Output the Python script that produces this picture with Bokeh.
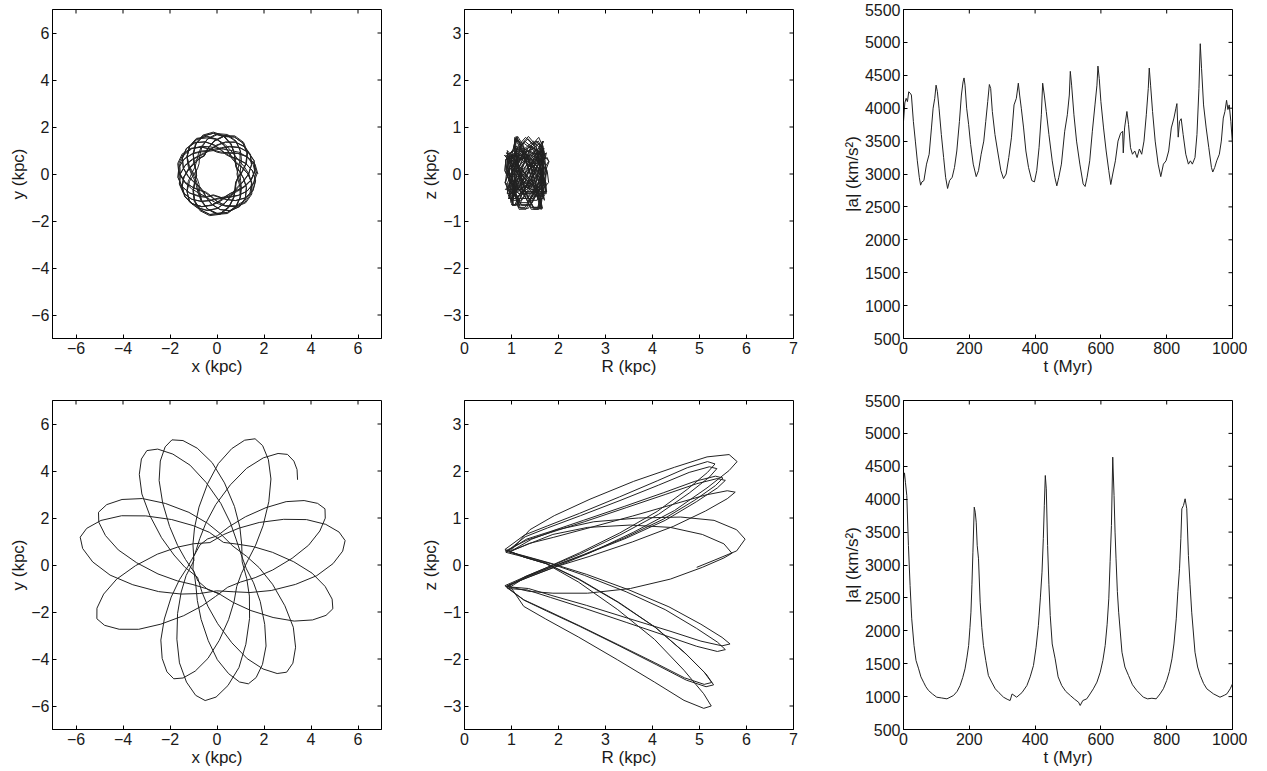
import numpy as np
from bokeh.plotting import figure
from bokeh.layouts import gridplot
from bokeh.models import FixedTicker, Range1d, CustomJSTickFormatter
from bokeh.embed import file_html
from bokeh.resources import INLINE

# ---------------- data ----------------
# top-left: inner orbit in the x-y plane, as azimuth (deg) and radius (kpc)
orbit1_phi = [
    0, 15, 30, 45, 60, 75, 90, 105, 120, 135, 150, 165, 180, 195, 210, 225, 240, 255, 270, 285, 300, 315, 330, 345,
    0, 15, 30, 45, 60, 75, 90, 105, 120, 135, 150, 165, 180, 195, 210, 225, 240, 255, 270, 285, 300, 315, 330, 345,
    0, 15, 30, 45, 60, 75, 90, 105, 120, 135, 150, 165, 180, 195, 210, 225, 240, 255, 270, 285, 300, 315, 330, 345,
    0, 15, 30, 45, 60, 75, 90, 105, 120, 135, 150, 165, 180, 195, 210, 225, 240, 255, 270, 285, 300, 315, 330, 345,
    0, 15, 30, 45, 60, 75, 90, 105, 120, 135, 150, 165, 180, 195, 210, 225, 240, 255, 270, 285, 300, 315, 330, 345,
    0, 15, 30, 45, 60, 75, 90, 105, 120, 135, 150, 165, 180, 195, 210, 225, 240, 255, 270, 285, 300, 315, 330, 345,
    0, 15, 30, 45, 60, 75, 90, 105, 120, 135, 150, 165, 180, 195, 210, 225, 240, 255, 270, 285, 300, 315, 330, 345,
    0, 15, 30, 45, 60, 75, 90, 105, 120, 135, 150, 165, 180, 195, 210, 225, 240, 255, 270, 285, 300, 315, 330, 345,
    0, 15, 30, 45, 60, 75, 90, 105, 120, 135, 150, 165, 180, 195, 210, 225, 240, 255, 270, 285, 300, 315, 330, 345,
    0, 15, 30, 45, 60, 75, 90, 105, 120, 135, 150, 165, 180, 195, 210, 225, 240, 255, 270, 285, 300, 315, 330, 345,
    20, 35, 50, 65, 80, 95, 110, 125, 140, 155, 170, 185, 200, 215, 230, 245, 260, 275, 290, 305, 320, 335, 350, 5,
    20, 35, 50, 65, 80, 95, 110, 125, 140, 155, 170, 185, 200, 215, 230, 245, 260, 275, 290, 305, 320, 335, 350, 5,
    20, 35, 50, 65, 80, 95, 110, 125, 140, 155, 170, 185, 200, 215, 230, 245, 260, 275, 290, 305, 320, 335, 350, 5,
    20, 35, 50, 65, 80, 95, 110, 125, 140, 155, 170, 185, 200, 215, 230, 245, 260, 275, 290, 305, 320, 335, 350, 5,
    20, 35, 50, 65, 80, 95, 110, 125, 140, 155, 170, 185, 200, 215, 230, 245, 260, 275, 290, 305, 320, 335, 350, 5,
    20, 35, 50, 65, 80, 95, 110, 125, 140, 155, 170, 185, 200, 215, 230, 245, 260, 275, 290, 305, 320, 335, 350, 5,
    20, 35, 50, 65, 80, 95, 110, 125, 140, 155, 170, 185, 200, 215, 230, 245, 260, 275, 290, 305, 320, 335, 350, 5,
    20, 35, 50, 65, 80, 95, 110, 125, 140, 155, 170, 185, 200, 215, 230, 245, 260, 275, 290, 305, 320, 335, 350, 5,
    20, 35, 50, 65, 80, 95, 110, 125, 140, 155, 170, 185, 200, 215, 230, 245, 260, 275, 290, 305, 320, 335, 350, 5,
    20, 35, 50, 65, 80, 95, 110, 125, 140, 155, 170, 185, 200, 215, 230, 245, 260, 275, 290, 305, 320, 335, 350, 5,
]
orbit1_r = [
    1.74, 1.67, 1.48, 1.24, 1.02, 0.91, 0.93, 1.09, 1.32, 1.55, 1.71, 1.73, 1.62, 1.40, 1.16, 0.97,
    0.90, 0.97, 1.16, 1.40, 1.62, 1.73, 1.71, 1.55, 1.32, 1.09, 0.93, 0.91, 1.02, 1.24, 1.48, 1.67,
    1.70, 1.64, 1.48, 1.27, 1.09, 0.99, 1.01, 1.14, 1.34, 1.54, 1.67, 1.69, 1.60, 1.41, 1.20, 1.04,
    0.98, 1.04, 1.20, 1.41, 1.60, 1.69, 1.67, 1.54, 1.34, 1.14, 1.01, 0.99, 1.09, 1.27, 1.48, 1.64,
    1.65, 1.60, 1.47, 1.29, 1.14, 1.06, 1.07, 1.18, 1.35, 1.52, 1.63, 1.64, 1.56, 1.41, 1.24, 1.10,
    1.05, 1.10, 1.24, 1.41, 1.56, 1.64, 1.63, 1.52, 1.35, 1.18, 1.07, 1.06, 1.14, 1.29, 1.47, 1.60,
    1.70, 1.64, 1.47, 1.25, 1.05, 0.95, 0.97, 1.11, 1.32, 1.53, 1.67, 1.69, 1.59, 1.39, 1.17, 1.00,
    0.94, 1.00, 1.17, 1.39, 1.59, 1.69, 1.67, 1.53, 1.32, 1.11, 0.97, 0.95, 1.05, 1.25, 1.47, 1.64,
    1.75, 1.67, 1.47, 1.21, 0.98, 0.86, 0.88, 1.05, 1.30, 1.55, 1.72, 1.74, 1.62, 1.39, 1.13, 0.93,
    0.85, 0.93, 1.13, 1.39, 1.62, 1.74, 1.72, 1.55, 1.30, 1.05, 0.88, 0.86, 0.98, 1.21, 1.47, 1.67,
    1.67, 1.61, 1.47, 1.28, 1.11, 1.02, 1.04, 1.16, 1.34, 1.52, 1.65, 1.66, 1.57, 1.40, 1.21, 1.07,
    1.01, 1.07, 1.21, 1.40, 1.57, 1.66, 1.65, 1.52, 1.34, 1.16, 1.04, 1.02, 1.11, 1.28, 1.47, 1.61,
    1.64, 1.59, 1.47, 1.31, 1.16, 1.09, 1.10, 1.20, 1.36, 1.52, 1.62, 1.64, 1.56, 1.42, 1.25, 1.13,
    1.08, 1.13, 1.25, 1.42, 1.56, 1.64, 1.62, 1.52, 1.36, 1.20, 1.10, 1.09, 1.16, 1.31, 1.47, 1.59,
    1.72, 1.65, 1.47, 1.24, 1.04, 0.93, 0.95, 1.10, 1.32, 1.54, 1.69, 1.71, 1.60, 1.40, 1.17, 0.99,
    0.87, 0.94, 1.14, 1.40, 1.62, 1.74, 1.72, 1.56, 1.31, 1.07, 0.90, 0.88, 1.00, 1.22, 1.48, 1.68,
    1.75, 1.68, 1.48, 1.22, 1.00, 0.88, 0.90, 1.07, 1.31, 1.56, 1.72, 1.74, 1.62, 1.40, 1.14, 0.94,
    1.00, 1.06, 1.21, 1.41, 1.58, 1.67, 1.65, 1.53, 1.34, 1.15, 1.03, 1.01, 1.10, 1.27, 1.47, 1.62,
    1.68, 1.62, 1.47, 1.27, 1.10, 1.01, 1.03, 1.15, 1.34, 1.53, 1.65, 1.67, 1.58, 1.41, 1.21, 1.06,
    0.90, 0.97, 1.15, 1.38, 1.58, 1.69, 1.67, 1.52, 1.30, 1.08, 0.93, 0.91, 1.02, 1.22, 1.45, 1.63,
    1.70, 1.63, 1.45, 1.22, 1.02, 0.91, 0.93, 1.08, 1.30, 1.52, 1.67, 1.69, 1.58, 1.38, 1.15, 0.97,
    0.86, 0.94, 1.15, 1.42, 1.66, 1.79, 1.76, 1.59, 1.33, 1.07, 0.90, 0.87, 1.00, 1.24, 1.51, 1.72,
    1.80, 1.72, 1.51, 1.24, 1.00, 0.87, 0.90, 1.07, 1.33, 1.59, 1.76, 1.79, 1.66, 1.42, 1.15, 0.94,
    1.05, 1.10, 1.24, 1.42, 1.58, 1.66, 1.65, 1.53, 1.36, 1.19, 1.07, 1.06, 1.14, 1.30, 1.48, 1.62,
    1.67, 1.62, 1.48, 1.30, 1.14, 1.06, 1.07, 1.19, 1.36, 1.53, 1.65, 1.66, 1.58, 1.42, 1.24, 1.10,
    0.93, 0.99, 1.16, 1.38, 1.58, 1.68, 1.66, 1.52, 1.31, 1.10, 0.96, 0.94, 1.04, 1.24, 1.46, 1.63,
    1.69, 1.63, 1.46, 1.24, 1.04, 0.94, 0.96, 1.10, 1.31, 1.52, 1.66, 1.68, 1.58, 1.38, 1.16, 0.99,
    0.89, 0.96, 1.16, 1.40, 1.62, 1.74, 1.72, 1.56, 1.32, 1.08, 0.92, 0.90, 1.02, 1.24, 1.49, 1.68,
    1.75, 1.68, 1.49, 1.24, 1.02, 0.90, 0.92, 1.08, 1.32, 1.56, 1.72, 1.74, 1.62, 1.40, 1.16, 0.96,
    0.99, 1.05, 1.21, 1.41, 1.59, 1.68, 1.66, 1.54, 1.34, 1.15, 1.02, 1.00, 1.09, 1.27, 1.47, 1.63,
]
# top-middle: same orbit in the meridional plane (R is the radius above)
orbit1_z = [
    0.45, 0.34, 0.08, -0.23, -0.42, -0.42, -0.23, 0.08, 0.34,
    0.45, 0.34, 0.08, -0.23, -0.42, -0.42, -0.23, 0.08, 0.34,
    0.45, 0.34, 0.08, -0.23, -0.42, -0.42, -0.23, 0.08, 0.34,
    0.45, 0.34, 0.08, -0.23, -0.42,
    -0.56, -0.30, 0.10, 0.46,
    0.60, 0.46, 0.10, -0.30, -0.56, -0.56, -0.30, 0.10, 0.46,
    0.60, 0.46, 0.10, -0.30, -0.56, -0.56, -0.30, 0.10, 0.46,
    0.60, 0.46, 0.10, -0.30, -0.56, -0.56, -0.30, 0.10, 0.46,
    0.60,
    0.57, 0.13, -0.38, -0.71, -0.71, -0.38, 0.13, 0.57,
    0.75, 0.57, 0.13, -0.38, -0.71, -0.71, -0.38, 0.13, 0.57,
    0.75, 0.57, 0.13, -0.38, -0.71, -0.71, -0.38, 0.13, 0.57,
    0.75, 0.57, 0.13, -0.38, -0.71, -0.71,
    -0.28, 0.10, 0.42,
    0.55, 0.42, 0.10, -0.28, -0.52, -0.52, -0.28, 0.10, 0.42,
    0.55, 0.42, 0.10, -0.28, -0.52, -0.52, -0.28, 0.10, 0.42,
    0.55, 0.42, 0.10, -0.28, -0.52, -0.52, -0.28, 0.10, 0.42,
    0.55, 0.42,
    0.07, -0.20, -0.38, -0.38, -0.20, 0.07, 0.31,
    0.40, 0.31, 0.07, -0.20, -0.38, -0.38, -0.20, 0.07, 0.31,
    0.40, 0.31, 0.07, -0.20, -0.38, -0.38, -0.20, 0.07, 0.31,
    0.40, 0.31, 0.07, -0.20, -0.38, -0.38, -0.20,
    0.12, 0.54,
    0.70, 0.54, 0.12, -0.35, -0.66, -0.66, -0.35, 0.12, 0.54,
    0.70, 0.54, 0.12, -0.35, -0.66, -0.66, -0.35, 0.12, 0.54,
    0.70, 0.54, 0.12, -0.35, -0.66, -0.66, -0.35, 0.12, 0.54,
    0.70, 0.54, 0.12,
    -0.40, -0.75, -0.75, -0.40, 0.14, 0.61,
    0.80, 0.61, 0.14, -0.40, -0.75, -0.75, -0.40, 0.14, 0.61,
    0.80, 0.61, 0.14, -0.40, -0.75, -0.75, -0.40, 0.14, 0.61,
    0.80, 0.61, 0.14, -0.40, -0.75, -0.75, -0.40, 0.14,
    0.38,
    0.50, 0.38, 0.09, -0.25, -0.47, -0.47, -0.25, 0.09, 0.38,
    0.50, 0.38, 0.09, -0.25, -0.47, -0.47,
    -0.20, 0.07, 0.31,
    0.40, 0.31, 0.07, -0.20, -0.38, -0.38, -0.20, 0.07, 0.31,
    0.40, 0.31, 0.07, -0.20, -0.38, -0.38, -0.20, 0.07, 0.31,
    0.40, 0.31, 0.07, -0.20, -0.38, -0.38, -0.20, 0.07, 0.31,
    0.40, 0.31,
    0.12, -0.35, -0.66, -0.66, -0.35, 0.12, 0.54,
    0.70, 0.54, 0.12, -0.35, -0.66, -0.66, -0.35, 0.12, 0.54,
    0.70, 0.54, 0.12, -0.35, -0.66, -0.66, -0.35, 0.12, 0.54,
    0.70, 0.54, 0.12, -0.35, -0.66, -0.66, -0.35,
    0.09, 0.38,
    0.50, 0.38, 0.09, -0.25, -0.47, -0.47, -0.25, 0.09, 0.38,
    0.50, 0.38, 0.09, -0.25, -0.47, -0.47, -0.25, 0.09, 0.38,
    0.50, 0.38, 0.09, -0.25, -0.47, -0.47, -0.25, 0.09, 0.38,
    0.50, 0.38, 0.09,
    -0.18, -0.33, -0.33, -0.18, 0.06, 0.27,
    0.35, 0.27, 0.06, -0.18, -0.33, -0.33, -0.18, 0.06, 0.27,
    0.35, 0.27, 0.06, -0.18, -0.33, -0.33, -0.18, 0.06, 0.27,
    0.35, 0.27, 0.06, -0.18, -0.33, -0.33, -0.18, 0.06,
    0.60,
    0.78, 0.60, 0.14, -0.39, -0.73, -0.73, -0.39, 0.14, 0.60,
    0.78, 0.60, 0.14, -0.39, -0.73, -0.73, -0.39, 0.14, 0.60,
    0.78, 0.60, 0.14, -0.39, -0.73, -0.73, -0.39, 0.14, 0.60,
    0.78, 0.60, 0.14, -0.39,
    -0.52, -0.52, -0.28, 0.10, 0.42,
    0.55, 0.42, 0.10, -0.28, -0.52, -0.52, -0.28, 0.10, 0.42,
    0.55, 0.42, 0.10, -0.28, -0.52, -0.52, -0.28, 0.10, 0.42,
    0.55, 0.42, 0.10, -0.28, -0.52, -0.52, -0.28, 0.10, 0.42,
    0.45, 0.34, 0.08, -0.23, -0.42, -0.42, -0.23, 0.08, 0.34,
    0.45, 0.34, 0.08, -0.23, -0.42, -0.42, -0.23, 0.08, 0.34,
    0.45, 0.34, 0.08, -0.23, -0.42, -0.42, -0.23, 0.08, 0.34,
    0.45, 0.34, 0.08, -0.23, -0.42,
    -0.61, -0.33, 0.11, 0.50,
    0.65, 0.50, 0.11, -0.33, -0.61, -0.61, -0.33, 0.11, 0.50,
    0.65, 0.50, 0.11,
]
# top-right: |a| against time
acc1_t = [
    0, 4, 8, 12, 16, 20, 24, 30, 36, 42,
    48, 52, 56, 62, 70, 78, 85, 90, 95, 99,
    103, 108, 115, 122, 128, 134, 140, 148, 155, 162,
    170, 176, 181, 184, 187, 192, 198, 204, 212, 221,
    228, 236, 244, 250, 256, 261, 265, 270, 278, 286,
    296, 304, 312, 320, 328, 336, 343, 349, 353, 358,
    365, 372, 380, 390, 398, 405, 412, 419, 423, 428,
    434, 442, 452, 460, 466, 472, 480, 490, 498, 504,
    507, 511, 518, 526, 536, 546, 552, 558, 566, 574,
    582, 588, 591, 595, 600, 608, 616, 624, 630, 636,
    644, 652, 660, 666, 668, 672, 679, 684, 690, 696,
    703, 710, 717, 724, 731, 738, 744, 747, 751, 757,
    765, 774, 782, 790, 798, 806, 814, 822, 828, 831,
    835, 839, 844, 850, 858, 866, 872, 878, 886, 892,
    898, 902, 906, 912, 920, 928, 936, 940, 946, 952,
    960, 966, 972, 977, 982, 986, 990, 995, 1000,
]
acc1_a = [
    3800, 4080, 4150, 4100, 4250, 4230, 4200, 3800, 3500, 3200,
    2950, 2830, 2880, 2900, 3150, 3300, 3700, 4000, 4150, 4350,
    4250, 4000, 3600, 3250, 2950, 2780, 2900, 2950, 3100, 3350,
    3800, 4200, 4400, 4460, 4350, 4000, 3750, 3450, 3150, 2960,
    3050, 3300, 3500, 3800, 4100, 4360, 4300, 3950, 3600, 3350,
    3050, 2930, 3000, 3250, 3550, 4050, 4150, 4380, 4200, 4000,
    3700, 3350, 3100, 2900, 2880, 3050, 3400, 3900, 4380, 4200,
    3950, 3600, 3200, 2950, 2820, 2950, 3150, 3650, 3900, 4200,
    4560, 4350, 3900, 3500, 3150, 2850, 2810, 2950, 3200, 3650,
    4050, 4350, 4640, 4450, 4100, 3700, 3350, 3050, 2840, 3000,
    3200, 3500, 3620, 3650, 3320, 3700, 3950, 3750, 3400, 3300,
    3350, 3250, 3380, 3300, 3500, 3900, 4300, 4610, 4350, 3950,
    3500, 3150, 2960, 3150, 3200, 3350, 3700, 3850, 4000, 4070,
    3560, 3800, 3840, 3600, 3300, 3150, 3200, 3150, 3250, 3600,
    4300, 4980, 4600, 4050, 3700, 3400, 3100, 3030, 3100, 3200,
    3300, 3500, 3850, 3950, 4120, 3980, 4050, 3800, 3450,
]
# bottom-left: outer orbit in the x-y plane, azimuth (deg) and radius (kpc)
orbit2_phi = [
    276.5, 250, 220, 190, 160, 130, 110, 89.5, 72.5, 59.5, 49.5, 42.5, 36.5, 31.5,
    27.5, 23.4, 18.3, 12.2, 5.1, 354.9, 341.6, 324.3, 295.8, 267.3, 250, 236.7, 226.5, 219.4, 213.3, 208.2,
    204.1, 199.8, 194.4, 188.0, 180.5, 169.7, 155.8, 137.5, 107.5, 77.4, 59.1, 45.2, 34.4, 26.9, 20.5, 15.1,
    10.8, 6.3, 0.7, 353.9, 346.1, 334.8, 320.2, 301.1, 269.6, 238.2, 219.1, 204.5, 193.2, 185.4, 178.6, 173,
    168.5, 164.3, 159.0, 152.7, 145.4, 134.9, 121.2, 103.3, 73.9, 44.5, 26.6, 12.9, 2.4, 355.1, 348.8, 343.5,
    339.3, 335.2, 330.1, 324.0, 316.9, 306.7, 293.5, 276.2, 247.7, 219.1, 201.8, 188.6, 178.4, 171.3, 165.2, 160.1,
    156, 151.3, 145.4, 138.3, 130, 118.1, 102.8, 82.6, 49.5, 16.4, 356.3, 340.9, 329, 320.8, 313.7, 307.7,
    303, 299, 293.9, 287.9, 280.8, 270.7, 257.6, 240.5, 212.3, 184, 166.9, 153.8, 143.7, 136.6, 130.6, 125.5,
    121.5, 117.1, 111.7, 105.1, 97.5, 86.5, 72.3, 53.7, 23.2, 352.6, 334, 319.8, 308.8, 301.2, 294.6, 289.2,
    284.8, 280.9, 276.1, 270.2, 263.4, 253.7, 241.1, 224.5, 197.3, 170.1, 153.6, 140.9, 131.2, 124.4, 118.6, 113.7,
    109.8, 105.3, 99.6, 92.7, 84.8, 73.4, 58.6, 39.3, 7.4, 335.5, 316.2, 301.4, 290, 282.1, 275.2, 269.6,
    265, 260.7, 255.4, 249, 241.6, 230.9, 217.1, 198.9, 169.1, 139.3, 121.1, 107.3, 96.6, 89.2, 82.8, 77.5,
    73.2, 69.1, 64, 57.9, 50.7, 40.5, 27.2, 9.8, 341.2, 312.6, 295.2, 281.9, 271.7, 264.5, 258.4, 253.3,
    249.2, 244.9, 239.6, 233.2, 225.7, 215, 201.2, 183, 153.1, 123.2, 105, 91.2, 80.5, 73, 66.6, 61.3,
    57.5, 53.5, 50.0, 46.6,
]
orbit2_r = [
    1.23, 1.12, 1.06, 1.04, 1.06, 1.12, 1.18, 1.24, 1.71, 2.38, 3.21, 3.99, 4.61, 5.02,
    5.18, 5.02, 4.61, 3.99, 3.21, 2.38, 1.71, 1.24, 1.05, 1.34, 1.85, 2.58, 3.47, 4.31, 4.98, 5.43,
    5.6, 5.43, 4.98, 4.31, 3.47, 2.58, 1.85, 1.34, 1.0, 1.33, 1.83, 2.55, 3.44, 4.27, 4.94, 5.38,
    5.55, 5.38, 4.94, 4.27, 3.44, 2.55, 1.83, 1.33, 1.1, 1.43, 1.96, 2.73, 3.68, 4.57, 5.29, 5.76,
    5.94, 5.76, 5.29, 4.57, 3.68, 2.73, 1.96, 1.43, 1.0, 1.26, 1.74, 2.42, 3.27, 4.06, 4.69, 5.11,
    5.27, 5.11, 4.69, 4.06, 3.27, 2.42, 1.74, 1.26, 1.1, 1.32, 1.82, 2.54, 3.42, 4.25, 4.91, 5.35,
    5.52, 5.35, 4.91, 4.25, 3.42, 2.54, 1.82, 1.32, 1.05, 1.31, 1.8, 2.5, 3.37, 4.19, 4.84, 5.28,
    5.44, 5.28, 4.84, 4.19, 3.37, 2.5, 1.8, 1.31, 0.98, 1.37, 1.88, 2.63, 3.54, 4.4, 5.08, 5.54,
    5.71, 5.54, 5.08, 4.4, 3.54, 2.63, 1.88, 1.37, 1.12, 1.26, 1.73, 2.41, 3.24, 4.03, 4.65, 5.07,
    5.23, 5.07, 4.65, 4.03, 3.24, 2.41, 1.73, 1.26, 1.02, 1.36, 1.87, 2.6, 3.51, 4.36, 5.04, 5.49,
    5.66, 5.49, 5.04, 4.36, 3.51, 2.6, 1.87, 1.36, 1.08, 1.39, 1.91, 2.66, 3.59, 4.46, 5.15, 5.62,
    5.79, 5.62, 5.15, 4.46, 3.59, 2.66, 1.91, 1.39, 1.0, 1.35, 1.85, 2.58, 3.48, 4.32, 4.99, 5.44,
    5.61, 5.44, 4.99, 4.32, 3.48, 2.58, 1.85, 1.35, 1.1, 1.24, 1.71, 2.38, 3.21, 3.99, 4.61, 5.02,
    5.18, 5.02, 4.61, 3.99, 3.21, 2.38, 1.71, 1.24, 1.05, 1.34, 1.84, 2.57, 3.46, 4.3, 4.97, 5.41,
    5.58, 5.5, 5.3, 4.99,
]
# bottom-middle: outer orbit in the meridional plane
orbit2_R = [
    0.87, 1.0, 1.39, 1.91, 2.67, 3.6, 4.47, 5.16, 5.63,
    5.8, 5.63, 5.16, 4.47, 3.6, 2.67, 1.91, 1.39, 0.95, 1.26, 1.73, 2.42, 3.26, 4.04, 4.67, 5.09,
    5.25, 5.09, 4.67, 4.04, 3.26, 2.42, 1.73, 1.26, 0.86, 1.28, 1.76, 2.45, 3.3, 4.1, 4.74, 5.17,
    5.33, 5.17, 4.74, 4.1, 3.3, 2.45, 1.76, 1.28, 0.9, 1.27, 1.75, 2.44, 3.29, 4.08, 4.72, 5.14,
    5.3, 5.14, 4.72, 4.08, 3.29, 2.44, 1.75, 1.27, 0.88, 1.29, 1.77, 2.47, 3.33, 4.13, 4.78, 5.21,
    5.37, 5.21, 4.78, 4.13, 3.33, 2.47, 1.77, 1.29, 0.86, 1.26, 1.74, 2.42, 3.26, 4.05, 4.68, 5.1,
    5.26, 5.1, 4.68, 4.05, 3.26, 2.42, 1.74, 1.26, 0.93, 1.32, 1.82, 2.53, 3.41, 4.24, 4.9, 5.34,
    5.5, 5.34, 4.9, 4.24, 3.41, 2.53, 1.82, 1.32, 0.92, 1.33, 1.83, 2.55, 3.44, 4.27, 4.94, 5.38,
    5.55, 5.38, 4.94, 4.27, 3.44, 2.55, 1.83, 1.33, 0.87, 1.33, 1.83, 2.55, 3.44, 4.27, 4.94, 5.38,
    5.55, 5.38, 4.94, 4.27, 3.44, 2.55, 1.83, 1.33, 0.88, 1.36, 1.86, 2.6, 3.5, 4.35, 5.03, 5.48,
    5.65, 5.48, 5.03, 4.35, 3.5, 2.6, 1.86, 1.36, 0.95, 1.38, 1.9, 2.65, 3.57, 4.44, 5.13, 5.59,
    5.76, 5.59, 5.13, 4.44, 3.57, 2.65, 1.9, 1.38, 0.9, 1.37, 1.88, 2.62, 3.53, 4.38, 5.06, 5.52,
    5.69, 5.52, 5.06, 4.38, 3.53, 2.62, 1.88, 1.37, 1.0, 1.43, 1.97, 2.75, 3.7, 4.6, 5.31, 5.79,
    5.97, 5.79, 5.31, 4.94,
]
orbit2_z = [
    0.30, 0.32, 0.75, 1.05, 1.4, 1.78, 2.08, 2.3, 2.35,
    2.2, 2.01, 1.64, 1.16, 0.70, 0.26, -0.05, -0.25, -0.42, -0.88, -1.15, -1.53, -2.02, -2.49, -2.88, -3.05,
    -3.0, -2.74, -2.24, -1.58, -0.95, -0.36, 0.03, 0.17, 0.33, 0.64, 0.83, 1.1, 1.45, 1.79, 2.07, 2.2,
    2.15, 1.97, 1.61, 1.14, 0.68, 0.26, -0.05, -0.25, -0.48, -0.75, -0.98, -1.3, -1.72, -2.12, -2.45, -2.59,
    -2.55, -2.32, -1.9, -1.34, -0.8, -0.3, 0.03, 0.17, 0.27, 0.6, 0.79, 1.05, 1.38, 1.7, 1.97, 2.09,
    2.05, 1.87, 1.53, 1.08, 0.65, 0.24, -0.05, -0.25, -0.44, -0.74, -0.96, -1.28, -1.69, -2.08, -2.4, -2.54,
    -2.5, -2.28, -1.86, -1.32, -0.79, -0.3, 0.03, 0.17, 0.31, 0.55, 0.71, 0.95, 1.25, 1.54, 1.78, 1.89,
    1.85, 1.69, 1.38, 0.98, 0.58, 0.22, -0.05, -0.25, -0.5, -0.53, -0.69, -0.92, -1.22, -1.5, -1.73, -1.84,
    -1.8, -1.64, -1.35, -0.95, -0.57, -0.22, 0.03, 0.17, 0.3, 0.53, 0.69, 0.92, 1.22, 1.5, 1.73, 1.84,
    1.8, 1.64, 1.35, 0.95, 0.57, 0.22, -0.05, -0.25, -0.46, -0.5, -0.65, -0.86, -1.14, -1.4, -1.62, -1.72,
    -1.68, -1.54, -1.26, -0.89, -0.53, -0.2, 0.03, 0.17, 0.28, 0.46, 0.59, 0.79, 1.04, 1.29, 1.49, 1.58,
    1.55, 1.41, 1.15, 0.82, 0.49, 0.18, -0.05, -0.25, -0.45, -0.56, -0.6, -0.6, -0.5, -0.3, -0.05, 0.15,
    0.25, 0.45, 0.65, 0.8, 0.85, 0.8, 0.65, 0.45, 0.3, 0.55, 0.75, 0.92, 1.0, 1.02, 0.95, 0.75,
    0.55, 0.3, 0.1, -0.05,
]
# bottom-right: |a| against time
acc2_t = [
    0, 3, 6, 10, 15, 20, 25, 32, 38, 46,
    53, 61, 68, 76, 88, 101, 115, 132, 152, 163,
    172, 180, 187, 193, 198, 202, 205, 208, 211, 215,
    218, 221, 224, 228, 233, 238, 243, 250, 258, 268,
    279, 290, 304, 315, 324, 330, 344, 360, 375, 385,
    395, 403, 410, 416, 421, 425, 428, 431, 434, 438,
    442, 446, 452, 461, 470, 481, 493, 507, 520, 532,
    537, 545, 557, 567, 577, 588, 598, 606, 613, 619,
    624, 628, 632, 636, 640, 643, 646, 650, 654, 664,
    673, 684, 696, 709, 729, 742, 755, 768, 780, 790,
    800, 808, 816, 822, 829, 834, 839, 843, 846, 851,
    856, 861, 866, 871, 876, 886, 894, 902, 912, 922,
    942, 962, 975, 983, 993, 1000,
]
acc2_a = [
    4300, 4400, 4250, 4056, 3296, 2688, 2182, 1777, 1550, 1422,
    1300, 1219, 1150, 1093, 1040, 991, 980, 966, 1017, 1080,
    1168, 1290, 1422, 1600, 1777, 2050, 2283, 2700, 3195, 3879,
    3803, 3651, 3300, 3094, 2435, 2050, 1777, 1550, 1321, 1220,
    1118, 1060, 991, 960, 940, 1040, 991, 1060, 1168, 1300,
    1472, 1750, 2080, 2500, 2891, 3400, 3900, 4360, 4157, 3296,
    2700, 2232, 1800, 1574, 1300, 1168, 1080, 1017, 960, 915,
    865, 940, 966, 1040, 1118, 1220, 1371, 1550, 1777, 2100,
    2486, 3050, 3600, 4639, 4056, 3500, 3094, 2600, 2283, 1675,
    1450, 1320, 1180, 1093, 991, 966, 975, 966, 1042, 1120,
    1245, 1380, 1574, 1800, 2182, 2600, 2942, 3400, 3854, 3904,
    4006, 3854, 3144, 2700, 2283, 1675, 1450, 1321, 1200, 1118,
    1042, 991, 1020, 1042, 1118, 1194,
]

xy_ticks = [-6, -4, -2, 0, 2, 4, 6]
R_ticks = [0, 1, 2, 3, 4, 5, 6, 7]
z_ticks = [-3, -2, -1, 0, 1, 2, 3]
t_ticks = [0, 200, 400, 600, 800, 1000]
a_ticks = [500, 1000, 1500, 2000, 2500, 3000, 3500, 4000, 4500, 5000, 5500]

# ---------------- styling ----------------
FONT = "Liberation Sans"
TXT = "#1a1a1a"
CURVE = "#222222"
TICK_PX = 4


def minus_fmt():
    return CustomJSTickFormatter(
        code="return (tick < 0 ? '\\u2212' : '') + Math.abs(tick).toString();")


def style_axis(ax, ticks, label):
    ax.ticker = FixedTicker(ticks=ticks)
    ax.formatter = minus_fmt()
    ax.major_tick_in = TICK_PX
    ax.major_tick_out = 0
    ax.minor_tick_line_color = None
    ax.axis_line_color = "black"
    ax.major_tick_line_color = "black"
    ax.major_label_text_font = FONT
    ax.major_label_text_font_size = "16px"
    ax.major_label_text_color = TXT
    ax.major_label_standoff = 3
    ax.axis_label = label
    ax.axis_label_text_font = FONT
    ax.axis_label_text_font_size = "17px"
    ax.axis_label_text_font_style = "normal"
    ax.axis_label_text_color = TXT
    ax.axis_label_standoff = 0


def make_fig(xr, yr, xt, yt, xl, yl, left, right, top, bottom):
    p = figure(frame_width=329, frame_height=329,
               x_range=Range1d(*xr), y_range=Range1d(*yr),
               output_backend="svg", toolbar_location=None, tools="",
               min_border_left=left, min_border_right=right,
               min_border_top=top, min_border_bottom=bottom)
    p.outline_line_color = "black"
    p.outline_line_width = 1
    p.grid.visible = False
    p.background_fill_color = "white"
    p.border_fill_color = "white"
    style_axis(p.xaxis[0], xt, xl)
    style_axis(p.yaxis[0], yt, yl)
    # inward ticks on the right and top edges of the box (MATLAB style)
    p.ray(x=[xr[1]] * len(yt), y=yt, length=TICK_PX, length_units="screen",
          angle=np.pi, line_color="black", line_width=1)
    p.ray(x=xt, y=[yr[1]] * len(xt), length=TICK_PX, length_units="screen",
          angle=-np.pi / 2, line_color="black", line_width=1)
    return p


def polar_xy(phi, r):
    n = min(len(phi), len(r))
    ph = np.deg2rad(np.asarray(phi[:n], dtype=float))
    rr = np.asarray(r[:n], dtype=float)
    return rr * np.cos(ph), rr * np.sin(ph)


def pair(a, b):
    n = min(len(a), len(b))
    return list(a[:n]), list(b[:n])


COLS = [(52, 10), (73, 10), (100, 15)]
ROWS = [(9, 45), (17, 40)]
ALAB = "|a| (km/s\u00b2)"

figs = []
for ri, (top, bottom) in enumerate(ROWS):
    row = []
    p = make_fig((-7, 7), (-7, 7), xy_ticks, xy_ticks, "x (kpc)", "y (kpc)",
                 COLS[0][0], COLS[0][1], top, bottom)
    x, y = polar_xy(orbit1_phi, orbit1_r) if ri == 0 else polar_xy(orbit2_phi, orbit2_r)
    p.line(x, y, line_color=CURVE, line_width=1)
    row.append(p)

    p = make_fig((0, 7), (-3.5, 3.5), R_ticks, z_ticks, "R (kpc)", "z (kpc)",
                 COLS[1][0], COLS[1][1], top, bottom)
    Rv, zv = pair(orbit1_r, orbit1_z) if ri == 0 else pair(orbit2_R, orbit2_z)
    p.line(Rv, zv, line_color=CURVE, line_width=1)
    row.append(p)

    p = make_fig((0, 1000), (500, 5500), t_ticks, a_ticks, "t (Myr)", ALAB,
                 COLS[2][0], COLS[2][1], top, bottom)
    tv, av = pair(acc1_t, acc1_a) if ri == 0 else pair(acc2_t, acc2_a)
    p.line(tv, av, line_color=CURVE, line_width=1)
    row.append(p)
    figs.append(row)

grid = gridplot(figs, toolbar_location=None)

with open("out.html", "w") as f:
    f.write(file_html(grid, INLINE))
